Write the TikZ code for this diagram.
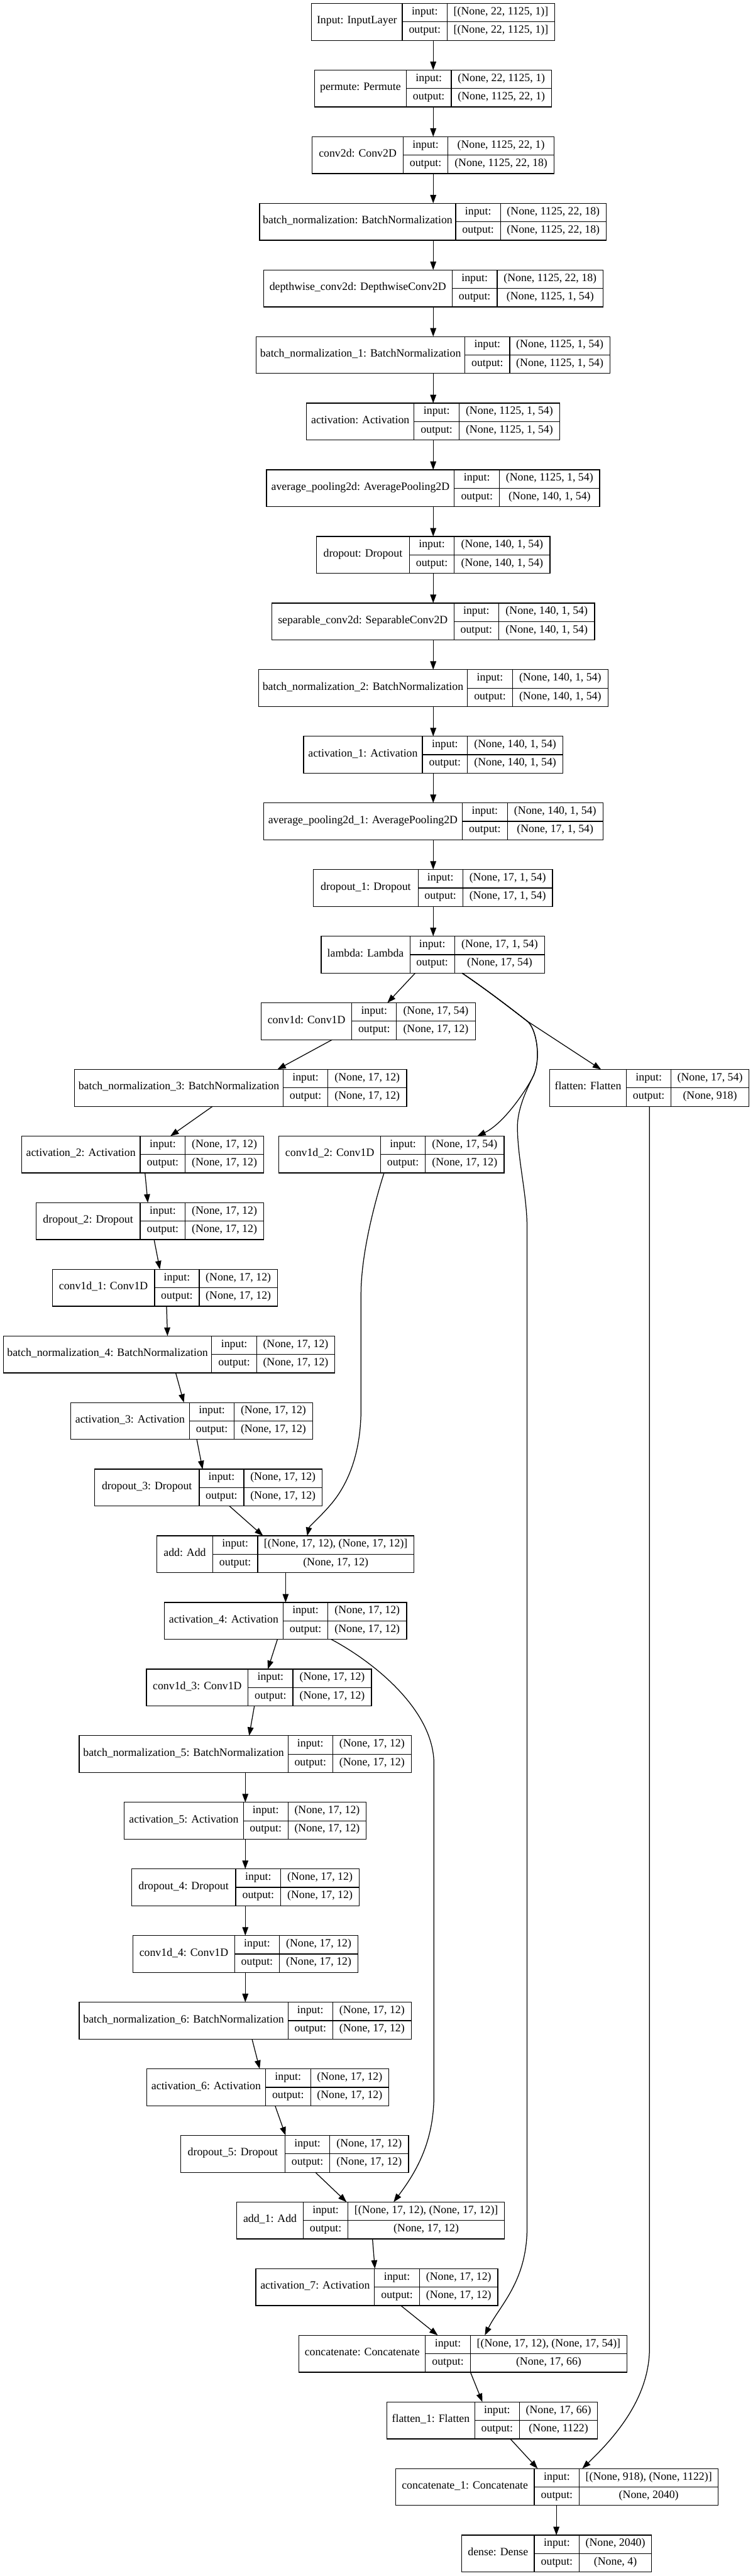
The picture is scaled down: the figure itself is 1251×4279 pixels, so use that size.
\documentclass[tikz,border=0pt]{standalone}
\usepackage{fontspec}
\setmainfont{Liberation Serif}
\usetikzlibrary{arrows.meta,calc}

\tikzset{
  kb/.style={draw=black, line width=1.3pt, inner sep=0pt, outer sep=0pt, anchor=north west},
  kt/.style={inner sep=0pt, outer sep=0pt, font=\fontsize{18.6pt}{22pt}\selectfont, text height=0.66em, text depth=0pt, anchor=center},
  kl/.style={line width=1.3pt},
  arr/.style={line width=1.3pt, -{Triangle[length=14pt,width=10pt]}},
}

\newcommand{\kerasbox}[9]{%
  \pgfmathsetmacro{\kT}{5.7+#2*110.67}%
  \pgfmathsetmacro{\kB}{\kT+61.3}%
  \pgfmathsetmacro{\kM}{\kT+30.65}%
  \pgfmathsetmacro{\kW}{#6-#3}%
  \pgfmathsetmacro{\kLX}{(#3+#4)/2}%
  \pgfmathsetmacro{\kIX}{(#4+#5)/2}%
  \pgfmathsetmacro{\kVX}{(#5+#6)/2}%
  \pgfmathsetmacro{\kUY}{(\kT+\kM)/2}%
  \pgfmathsetmacro{\kDY}{(\kM+\kB)/2}%
  \node[kb, minimum width=\kW pt, minimum height=61.3pt] (#1) at (#3,\kT) {};
  \draw[kl] (#4,\kT) -- (#4,\kB) (#5,\kT) -- (#5,\kB) (#4,\kM) -- (#6,\kM);
  \node[kt] (#1-l) at (\kLX,\kM) {#7};
  \node[kt] (#1-i) at (\kIX,\kUY) {input:};
  \node[kt] (#1-o) at (\kIX,\kDY) {output:};
  \node[kt] (#1-a) at (\kVX,\kUY) {#8};
  \node[kt] (#1-b) at (\kVX,\kDY) {#9};
}
\newcommand{\kedge}[4]{\draw[arr] (#1.south -| #2,0) -- (#3.north -| #4,0);}

\begin{document}
\begin{tikzpicture}[x=1pt,y=-1pt]
\fill[white] (0,0) rectangle (1251,4279);
\useasboundingbox (0,0) rectangle (1251,4279);

\kerasbox{n0}{0}{517.7}{668.7}{743.3}{922}{Input: InputLayer}{[(None, 22, 1125, 1)]}{[(None, 22, 1125, 1)]}
\kerasbox{n1}{1}{522.7}{675.3}{750}{916.7}{permute: Permute}{(None, 22, 1125, 1)}{(None, 1125, 22, 1)}
\kerasbox{n2}{2}{519}{670}{744.7}{920.7}{conv2d: Conv2D}{(None, 1125, 22, 1)}{(None, 1125, 22, 18)}
\kerasbox{n3}{3}{431.4}{757.5}{831.8}{1007.5}{batch\_normalization: BatchNormalization}{(None, 1125, 22, 18)}{(None, 1125, 22, 18)}
\kerasbox{n4}{4}{437.9}{751.4}{826.4}{1002.4}{depthwise\_conv2d: DepthwiseConv2D}{(None, 1125, 22, 18)}{(None, 1125, 1, 54)}
\kerasbox{n5}{5}{425.7}{772.9}{847.1}{1013.7}{batch\_normalization\_1: BatchNormalization}{(None, 1125, 1, 54)}{(None, 1125, 1, 54)}
\kerasbox{n6}{6}{509.5}{688.2}{763.2}{930}{activation: Activation}{(None, 1125, 1, 54)}{(None, 1125, 1, 54)}
\kerasbox{n7}{7}{442.9}{755.1}{830.2}{996.6}{average\_pooling2d: AveragePooling2D}{(None, 1125, 1, 54)}{(None, 140, 1, 54)}
\kerasbox{n8}{8}{525.9}{680.5}{755.1}{914}{dropout: Dropout}{(None, 140, 1, 54)}{(None, 140, 1, 54)}
\kerasbox{n9}{9}{451.7}{754.4}{829}{988.2}{separable\_conv2d: SeparableConv2D}{(None, 140, 1, 54)}{(None, 140, 1, 54)}
\kerasbox{n10}{10}{429.5}{777}{851.6}{1010.6}{batch\_normalization\_2: BatchNormalization}{(None, 140, 1, 54)}{(None, 140, 1, 54)}
\kerasbox{n11}{11}{504.5}{702}{777}{935.4}{activation\_1: Activation}{(None, 140, 1, 54)}{(None, 140, 1, 54)}
\kerasbox{n12}{12}{437.9}{768.5}{843.2}{1002.2}{average\_pooling2d\_1: AveragePooling2D}{(None, 140, 1, 54)}{(None, 17, 1, 54)}
\kerasbox{n13}{13}{521}{694.9}{769.1}{918.3}{dropout\_1: Dropout}{(None, 17, 1, 54)}{(None, 17, 1, 54)}
\kerasbox{n14}{14}{533.7}{681.3}{755.5}{905.5}{lambda: Lambda}{(None, 17, 1, 54)}{(None, 17, 54)}
\kerasbox{n15}{15}{434}{584.8}{659}{789.9}{conv1d: Conv1D}{(None, 17, 54)}{(None, 17, 12)}
\kerasbox{n16}{16}{123.7}{470.7}{544.9}{675.8}{batch\_normalization\_3: BatchNormalization}{(None, 17, 12)}{(None, 17, 12)}
\kerasbox{nf}{16}{913.5}{1041.2}{1115.4}{1244.6}{flatten: Flatten}{(None, 17, 54)}{(None, 918)}
\kerasbox{n17}{17}{35.9}{233}{308}{438}{activation\_2: Activation}{(None, 17, 12)}{(None, 17, 12)}
\kerasbox{nc2}{17}{463.5}{632.7}{706.9}{837.7}{conv1d\_2: Conv1D}{(None, 17, 54)}{(None, 17, 12)}
\kerasbox{n18}{18}{59.8}{233}{308}{438}{dropout\_2: Dropout}{(None, 17, 12)}{(None, 17, 12)}
\kerasbox{n19}{19}{87}{256.9}{331.1}{461.1}{conv1d\_1: Conv1D}{(None, 17, 12)}{(None, 17, 12)}
\kerasbox{n20}{20}{5.6}{351.8}{426.8}{556.1}{batch\_normalization\_4: BatchNormalization}{(None, 17, 12)}{(None, 17, 12)}
\kerasbox{n21}{21}{117.3}{315.1}{389.3}{519.4}{activation\_3: Activation}{(None, 17, 12)}{(None, 17, 12)}
\kerasbox{n22}{22}{157.2}{331.1}{405.3}{535.3}{dropout\_3: Dropout}{(None, 17, 12)}{(None, 17, 12)}
\kerasbox{n23}{23}{260.9}{353.4}{428.4}{687.7}{add: Add}{[(None, 17, 12), (None, 17, 12)]}{(None, 17, 12)}
\kerasbox{n24}{24}{272.9}{470.7}{544.9}{675.8}{activation\_4: Activation}{(None, 17, 12)}{(None, 17, 12)}
\kerasbox{n25}{25}{243.3}{412.5}{486.7}{617.5}{conv1d\_3: Conv1D}{(None, 17, 12)}{(None, 17, 12)}
\kerasbox{n26}{26}{131.6}{478.7}{552.9}{683.7}{batch\_normalization\_5: BatchNormalization}{(None, 17, 12)}{(None, 17, 12)}
\kerasbox{n27}{27}{206.6}{404.5}{478.7}{608.7}{activation\_5: Activation}{(None, 17, 12)}{(None, 17, 12)}
\kerasbox{n28}{28}{218.6}{391.7}{466.7}{596.8}{dropout\_4: Dropout}{(None, 17, 12)}{(None, 17, 12)}
\kerasbox{n29}{29}{221}{390.1}{464.3}{595.2}{conv1d\_4: Conv1D}{(None, 17, 12)}{(None, 17, 12)}
\kerasbox{n30}{30}{131.6}{478.7}{552.9}{683.7}{batch\_normalization\_6: BatchNormalization}{(None, 17, 12)}{(None, 17, 12)}
\kerasbox{n31}{31}{244.1}{441.2}{516.2}{646.2}{activation\_6: Activation}{(None, 17, 12)}{(None, 17, 12)}
\kerasbox{n32}{32}{300}{473.9}{548.1}{679}{dropout\_5: Dropout}{(None, 17, 12)}{(None, 17, 12)}
\kerasbox{n33}{33}{393.3}{504.2}{578.4}{838.5}{add\_1: Add}{[(None, 17, 12), (None, 17, 12)]}{(None, 17, 12)}
\kerasbox{n34}{34}{425.2}{622.3}{697.3}{827.4}{activation\_7: Activation}{(None, 17, 12)}{(None, 17, 12)}
\kerasbox{n35}{35}{497}{706.9}{781.9}{1042}{concatenate: Concatenate}{[(None, 17, 12), (None, 17, 54)]}{(None, 17, 66)}
\kerasbox{n36}{36}{643}{789.1}{863.3}{993.3}{flatten\_1: Flatten}{(None, 17, 66)}{(None, 1122)}
\kerasbox{n37}{37}{657.4}{888}{963}{1193.6}{concatenate\_1: Concatenate}{[(None, 918), (None, 1122)]}{(None, 2040)}
\kerasbox{n38}{38}{767.5}{888}{963}{1082.6}{dense: Dense}{(None, 2040)}{(None, 4)}

% upper trunk
\kedge{n0}{720}{n1}{720}
\kedge{n1}{720}{n2}{720}
\kedge{n2}{720}{n3}{720}
\kedge{n3}{720}{n4}{720}
\kedge{n4}{720}{n5}{720}
\kedge{n5}{720}{n6}{720}
\kedge{n6}{720}{n7}{720}
\kedge{n7}{720}{n8}{720}
\kedge{n8}{720}{n9}{720}
\kedge{n9}{720}{n10}{720}
\kedge{n10}{720}{n11}{720}
\kedge{n11}{720}{n12}{720}
\kedge{n12}{720}{n13}{720}
\kedge{n13}{720}{n14}{720}

% lower straight edges
\kedge{n14}{690.1}{n15}{643.9}
\draw[arr] (n14.south -| 768,0) .. controls (810,1645) and (845,1672) .. (876,1696) -- (nf.north -| 999,0);
\kedge{n15}{552.1}{n16}{461.1}
\kedge{n16}{353.4}{n17}{283.2}
\kedge{n17}{241}{n18}{245.7}
\kedge{n18}{256.1}{n19}{265.7}
\kedge{n19}{276.8}{n20}{278.4}
\kedge{n20}{292}{n21}{305.6}
\kedge{n21}{327.1}{n22}{336.7}
\kedge{n22}{381.4}{n23}{437.2}
\kedge{n23}{474.7}{n24}{474.7}
\kedge{n24}{461.1}{n25}{445.2}
\kedge{n25}{422.8}{n26}{414.1}
\kedge{n26}{407.7}{n27}{407.7}
\kedge{n27}{407.7}{n28}{407.7}
\kedge{n28}{407.7}{n29}{407.7}
\kedge{n29}{407.7}{n30}{407.7}
\kedge{n30}{418.9}{n31}{431.6}
\kedge{n31}{457.2}{n32}{474.7}
\kedge{n32}{524.2}{n33}{576}
\kedge{n33}{619.1}{n34}{623.1}
\kedge{n34}{666.2}{n35}{727.6}
\kedge{n35}{781.9}{n36}{801.8}
\kedge{n36}{848.1}{n37}{893.6}
\kedge{n37}{924.7}{n38}{924.7}

% curved edges
\draw[arr] (n14.south -| 768,0) .. controls (810,1645) and (845,1672) .. (876,1696)
  .. controls (892,1708) and (900,1760) .. (886,1788)
  .. controls (879,1803) and (840,1865) .. (nc2.north -| 793.3,0);
\draw[arr] (n14.south -| 768,0) .. controls (810,1645) and (845,1672) .. (876,1696)
  .. controls (892,1708) and (900,1760) .. (886,1788)
  .. controls (879,1803) and (859,1840) .. (860,1875)
  .. controls (861,1930) and (876,1985) .. (876,2040)
  -- (876,3700) .. controls (876,3790) and (830,3830) .. (n35.north -| 805.8,0);
\draw[arr] (nc2.south -| 638.3,0) .. controls (625,1990) and (600,2080) .. (600,2150)
  -- (600,2340) .. controls (600,2420) and (575,2470) .. (549,2500)
  .. controls (530,2522) and (514,2535) .. (n23.north -| 510.6,0);
\draw[arr] (n24.south -| 550.5,0) .. controls (620,2760) and (721.2,2840) .. (721.2,2930)
  -- (721.2,3480) .. controls (721.2,3560) and (690,3610) .. (n33.north -| 654.2,0);
\draw[arr] (nf.south -| 1079.5,0) -- (1079.5,3900) .. controls (1079.5,3985) and (1020,4050) .. (n37.north -| 967.8,0);

\end{tikzpicture}
\end{document}
